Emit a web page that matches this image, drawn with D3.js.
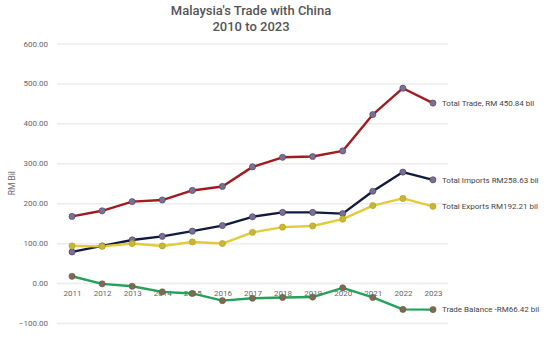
<!DOCTYPE html>
<html>
<head>
<meta charset="utf-8">
<script src="https://cdn.jsdelivr.net/npm/d3@7"></script>
<style>
  html, body { margin: 0; padding: 0; background: #fff; }
  svg { display: block; font-family: "Roboto", "DejaVu Sans Condensed", sans-serif; }
</style>
</head>
<body>
<svg id="chart" width="558" height="338"></svg>
<script>
// Malaysia–China trade, RM billion
const years = ["2011","2012","2013","2014","2015","2016","2017","2018","2019","2020","2021","2022","2023"];
const totalTrade   = [167, 181, 204, 208, 232, 242, 291, 315, 317, 331, 422, 488, 450.84];
const totalImports = [78, 93, 108, 117, 130, 144, 166, 177, 177, 174, 230, 278, 258.63];
const totalExports = [93, 92, 99, 93, 103, 99, 127, 140, 143, 160, 194, 212, 192.21];
const tradeBalance = [17, -2, -8, -22, -26, -44, -38, -36, -35, -12, -36, -66, -66.42];
const yTicks = [-100, 0, 100, 200, 300, 400, 500, 600];
const seriesLabels = [
  "Total Trade, RM 450.84 bil",
  "Total Imports RM258.63 bil",
  "Total Exports RM192.21 bil",
  "Trade Balance  -RM66.42 bil"
];

const series = [
  { values: totalTrade,   line: "#a11a1f", dot: "#7b6f93", stroke: "#4a3f5e", label: seriesLabels[0] },
  { values: totalImports, line: "#111a3f", dot: "#7b6f93", stroke: "#3e3a5c", label: seriesLabels[1] },
  { values: totalExports, line: "#e2cb3a", dot: "#c8b734", stroke: "#b09f2a", label: seriesLabels[2] },
  { values: tradeBalance, line: "#23a15b", dot: "#7c6a51", stroke: "#6a5a44", label: seriesLabels[3] }
];

const svg = d3.select("#chart");
const plotLeft = 57, plotRight = 448, plotTop = 43.5, plotBottom = 323;

const x = d3.scalePoint().domain(years).range([plotLeft, plotRight]).padding(0.5);
const y = d3.scaleLinear().domain([-100, 600]).range([plotBottom, plotTop]);

// title
const title = svg.append("text")
  .attr("x", 251).attr("text-anchor", "middle")
  .attr("fill", "#555").attr("font-size", 13).attr("font-weight", 500);
title.append("tspan").attr("x", 251).attr("y", 15).text("Malaysia's Trade with China");
title.append("tspan").attr("x", 251).attr("y", 31).text("2010 to 2023");

// horizontal gridlines and value labels
const yAxis = d3.axisLeft(y).tickValues(yTicks)
  .tickSize(-(plotRight - plotLeft)).tickFormat(d3.format(".2f"));
const ga = svg.append("g").attr("transform", `translate(${plotLeft},0)`).call(yAxis);
ga.select(".domain").remove();
ga.selectAll(".tick line").attr("stroke", "#ececec").attr("stroke-width", 1.5);
ga.selectAll(".tick text").attr("x", -9).attr("fill", "#666")
  .attr("font-size", 8).style("font-family", "Roboto, sans-serif");

// axis title
svg.append("text")
  .attr("transform", `translate(15,${y(250)}) rotate(-90)`)
  .attr("text-anchor", "middle").attr("fill", "#666").attr("font-size", 8.5)
  .text("RM Bil");

// year labels sit just under the zero line
const xAxis = d3.axisBottom(x).tickSize(0).tickPadding(0);
const gx = svg.append("g").attr("transform", `translate(0,${y(0) + 7})`).call(xAxis);
gx.select(".domain").remove();
gx.selectAll(".tick text").attr("fill", "#666").attr("font-size", 8)
  .style("font-family", "Roboto, sans-serif");

const line = d3.line().x((d, i) => x(years[i])).y(d => y(d));

series.forEach(s => {
  svg.append("path").datum(s.values)
    .attr("fill", "none").attr("stroke", s.line).attr("stroke-width", 2.4)
    .attr("stroke-linejoin", "round").attr("d", line);
});

series.forEach(s => {
  svg.append("g").selectAll("circle").data(s.values).join("circle")
    .attr("cx", (d, i) => x(years[i])).attr("cy", d => y(d)).attr("r", 3.1)
    .attr("fill", s.dot).attr("stroke", s.stroke).attr("stroke-width", 0.6);
  const last = s.values[s.values.length - 1];
  svg.append("text")
    .attr("x", x(years[years.length - 1]) + 9).attr("y", y(last))
    .attr("dy", "0.35em").attr("fill", "#444").attr("font-size", 8)
    .style("font-family", "Roboto, sans-serif")
    .text(s.label);
});
</script>
</body>
</html>
